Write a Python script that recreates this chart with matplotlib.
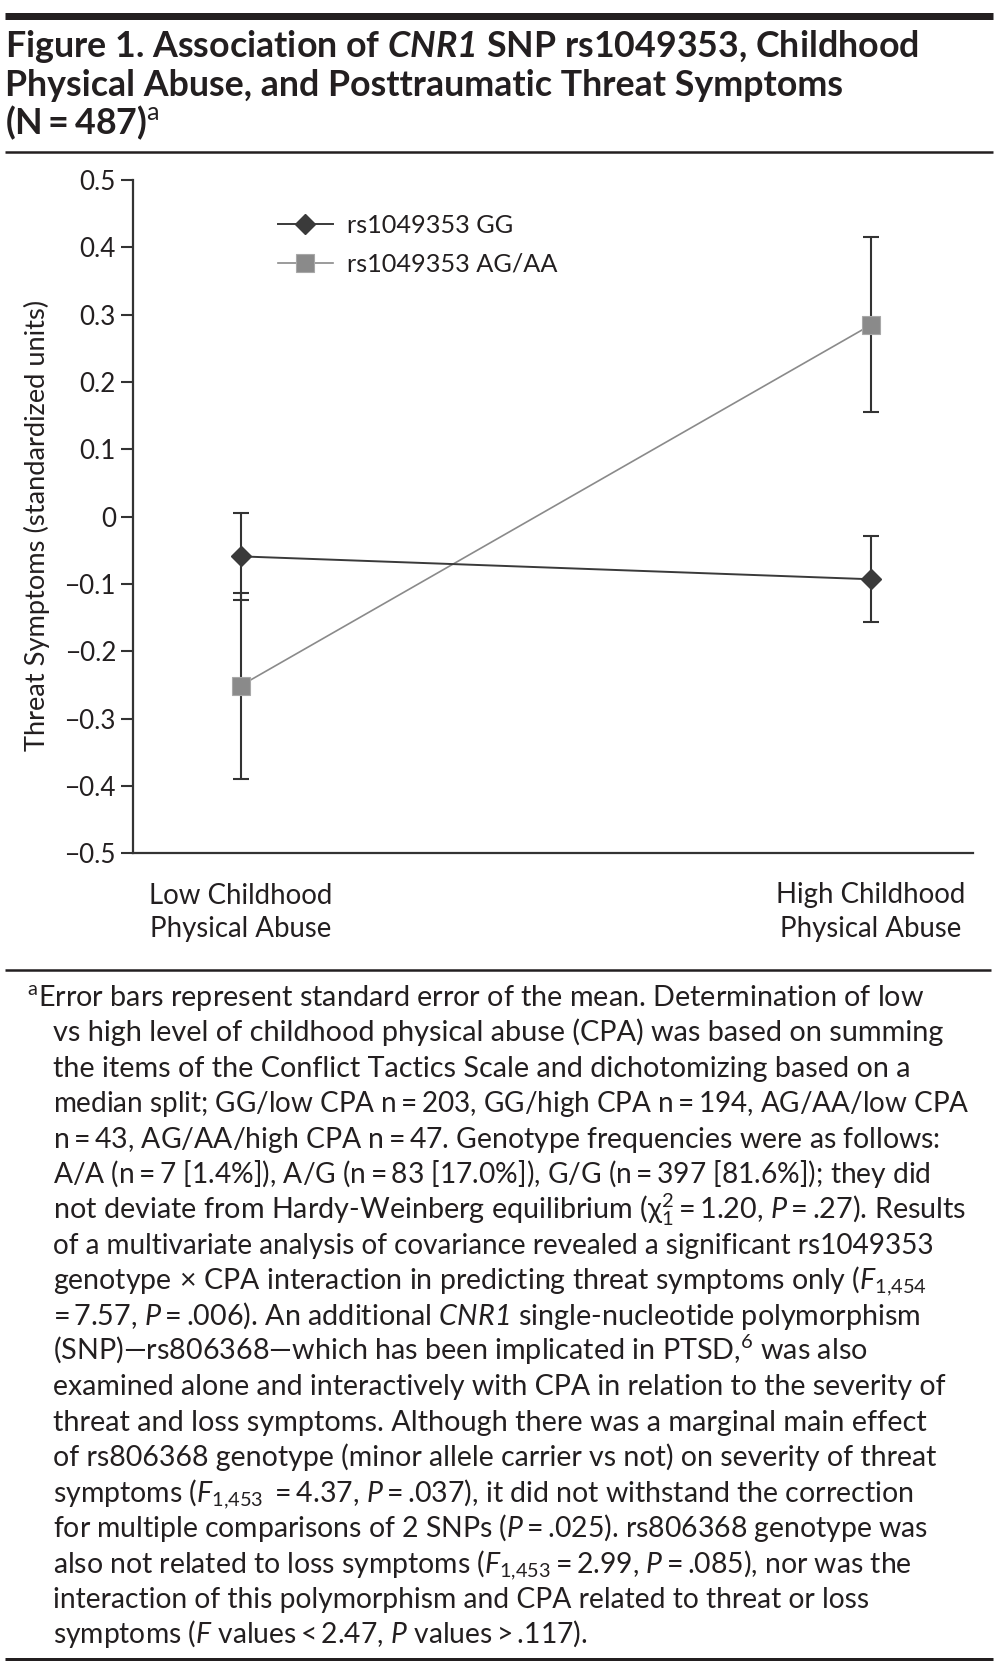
import matplotlib
matplotlib.use('Agg')
import matplotlib.pyplot as plt
from matplotlib import font_manager
from matplotlib.lines import Line2D
from matplotlib.transforms import blended_transform_factory
import numpy as np

# ---------------- data ----------------
categories = ['Low Childhood\nPhysical Abuse', 'High Childhood\nPhysical Abuse']
series_labels = ['rs1049353 GG', 'rs1049353 AG/AA']
gg_mean = [-0.059, -0.093]
gg_se = [0.065, 0.064]
ag_mean = [-0.251, 0.285]
ag_se = [0.138, 0.130]
y_ticks = [0.5, 0.4, 0.3, 0.2, 0.1, 0.0, -0.1, -0.2, -0.3, -0.4, -0.5]
y_tick_labels = ['0.5', '0.4', '0.3', '0.2', '0.1', '0',
                 '\u22120.1', '\u22120.2', '\u22120.3', '\u22120.4', '\u22120.5']
y_label = 'Threat Symptoms (standardized units)'

# ---------------- fonts ----------------
W, H, DPI = 995, 1670, 100
available = {f.name for f in font_manager.fontManager.ttflist}
FONT = 'Lato' if 'Lato' in available else 'DejaVu Sans'
plt.rcParams['font.family'] = [FONT, 'DejaVu Sans']
plt.rcParams['mathtext.fontset'] = 'custom'
plt.rcParams['mathtext.rm'] = FONT
plt.rcParams['mathtext.it'] = FONT + ':italic'
plt.rcParams['mathtext.bf'] = FONT + ':bold'
plt.rcParams['mathtext.sf'] = FONT + ':italic'
HAS_BFIT = 'mathtext.bfit' in plt.rcParams
if HAS_BFIT:
    plt.rcParams['mathtext.bfit'] = FONT + ':italic:bold'
plt.rcParams['mathtext.fallback'] = 'stixsans'

TXT = '#231f20'
DARK = '#3a3a3a'
GRAY = '#8a8a8a'
AXC = '#333333'

cnr = r'$\mathbfit{CNR1}$' if HAS_BFIT else r'$\mathit{CNR1}$'
title_lines = ['Figure 1. Association of ' + cnr + ' SNP rs1049353, Childhood',
               'Physical Abuse, and Posttraumatic Threat Symptoms',
               r'(N$\mathbf{=}$487)${}^{\mathrm{a}}$']
footnote_lines = [
    r'${}^{\mathrm{a}}$Error bars represent standard error of the mean. Determination of low',
    'vs high level of childhood physical abuse (CPA) was based on summing',
    'the items of the Conflict Tactics Scale and dichotomizing based on a',
    r'median split; GG/low CPA n$=$203, GG/high CPA n$=$194, AG/AA/low CPA',
    r'n$=$43, AG/AA/high CPA n$=$47. Genotype frequencies were as follows:',
    r'A/A (n$=$7 [1.4%]), A/G (n$=$83 [17.0%]), G/G (n$=$397 [81.6%]); they did',
    r'not deviate from Hardy-Weinberg equilibrium ($\mathrm{\chi}^{2}_{1}=$1.20, $P=$.27). Results',
    'of a multivariate analysis of covariance revealed a significant rs1049353',
    r'genotype$\,\times\,$CPA interaction in predicting threat symptoms only ($F_{1{,}454}$',
    r'=$\,$7.57, $P=$.006). An additional $\mathsf{CNR1}$ single-nucleotide polymorphism',
    r'(SNP)—rs806368—which has been implicated in PTSD,${}^{6}$ was also',
    'examined alone and interactively with CPA in relation to the severity of',
    'threat and loss symptoms. Although there was a marginal main effect',
    'of rs806368 genotype (minor allele carrier vs not) on severity of threat',
    r'symptoms ($F_{1{,}453}$ $=$4.37, $P=$.037), it did not withstand the correction',
    r'for multiple comparisons of 2 SNPs ($P=$.025). rs806368 genotype was',
    r'also not related to loss symptoms ($F_{1{,}453}=$2.99, $P=$.085), nor was the',
    'interaction of this polymorphism and CPA related to threat or loss',
    r'symptoms ($F$ values$<$2.47, $P$ values$>$.117).',
]
footnote_right = [925, 949, 912, 957, 937, 924, 966, 922, 929, 925, 870, 948,
                  933, 939, 912, 927, 911, 866, 584]

fig = plt.figure(figsize=(W / DPI, H / DPI), dpi=DPI)
renderer = fig.canvas.get_renderer()


def fx(x):
    return x / W


def fy(y):
    return 1 - y / H


def measure(s, size, **kw):
    t = fig.text(0, 0, s, fontsize=size, **kw)
    w = t.get_window_extent(renderer=renderer).width
    t.remove()
    return w


def fit_size(s, target, **kw):
    return 20.0 * target / measure(s, 20.0, **kw)


def hrule(y, x0, x1, lw_px):
    fig.add_artist(Line2D([fx(x0), fx(x1)], [fy(y), fy(y)], transform=fig.transFigure,
                          lw=lw_px * 72 / DPI, color=TXT, solid_capstyle='butt'))


# ---------------- title ----------------
ts = np.mean([fit_size(title_lines[0], 907, fontweight='bold'),
              fit_size(title_lines[1], 847, fontweight='bold')])
for s, yb in zip(title_lines, [57, 96, 134]):
    fig.text(fx(5), fy(yb), s, fontsize=ts, fontweight='bold', color=TXT, va='baseline', ha='left')

hrule(15.5, 5, 993, 7)
hrule(152, 5, 993, 2.5)
hrule(970, 5, 991, 2.5)
hrule(1659, 5, 993, 3)

# ---------------- axes ----------------
ax_l, ax_r, ax_t, ax_b = 133.5, 973.3, 180.0, 853.3
ax = fig.add_axes([fx(ax_l), fy(ax_b), (ax_r - ax_l) / W, (ax_b - ax_t) / H])
x = np.arange(len(categories))
ax.set_xlim(-0.170, 1.162)
ax.set_ylim(-0.5, 0.5)
for s in ['top', 'right']:
    ax.spines[s].set_visible(False)
for s in ['left', 'bottom']:
    ax.spines[s].set_linewidth(1.6)
    ax.spines[s].set_color(AXC)

ax.errorbar(x, gg_mean, yerr=gg_se, fmt='none', ecolor=AXC, elinewidth=1.5,
            capsize=5.5, capthick=1.5, zorder=2)
ax.errorbar(x, ag_mean, yerr=ag_se, fmt='none', ecolor=AXC, elinewidth=1.5,
            capsize=5.5, capthick=1.5, zorder=2)
ax.plot(x, gg_mean, color=DARK, lw=1.4, marker='D', ms=10, mfc=DARK, mec=DARK,
        label=series_labels[0], zorder=4)
ax.plot(x, ag_mean, color=GRAY, lw=1.2, marker='s', ms=13, mfc=GRAY, mec='#a8a8a8',
        mew=0.8, label=series_labels[1], zorder=3)

yts = 1.07 * np.mean([fit_size('0.5', 34), fit_size('\u22120.5', 48)])
ax.set_yticks(y_ticks)
ax.set_yticklabels(y_tick_labels)
ax.tick_params(axis='y', direction='out', length=8.6, width=1.5, pad=4.0,
               labelsize=yts, color=AXC, labelcolor=TXT)

# category labels: one text per line, centred on each category's x position
xts = np.mean([fit_size('Low Childhood', 185), fit_size('High Childhood', 192),
               fit_size('Physical Abuse', 179)])
ax.set_xticks(x)
ax.set_xticklabels([''] * len(categories))
ax.tick_params(axis='x', length=0)
btr = blended_transform_factory(ax.transData, fig.transFigure)
for xi, cat in zip(x, categories):
    for line, yb in zip(cat.split('\n'), [903.5, 937.0]):
        ax.text(xi, fy(yb), line, transform=btr, ha='center', va='baseline',
                fontsize=xts, color=TXT, clip_on=False)

yls = fit_size(y_label, 453)
fig.text(fx(37), fy(525), y_label, rotation=90, ha='center', va='center',
         fontsize=yls, color=TXT)

ls = fit_size(series_labels[1], 210)
fs_px = ls * DPI / 72
leg = ax.legend(loc='center left', bbox_to_anchor=(fx(278), fy(245)),
                bbox_transform=fig.transFigure, frameon=False, fontsize=ls,
                handlelength=55 / fs_px, handletextpad=13.7 / fs_px,
                labelspacing=0.62, borderpad=0, borderaxespad=0, numpoints=1)
for t in leg.get_texts():
    t.set_color(TXT)

# ---------------- footnote ----------------
sizes = []
for i, (s, r) in enumerate(zip(footnote_lines, footnote_right)):
    x0 = 27 if i == 0 else 53
    sizes.append(fit_size(s, r - x0))
fns = float(np.median(sizes))
for i, s in enumerate(footnote_lines):
    x0 = 27 if i == 0 else 53
    size_i = fns ** 0.35 * sizes[i] ** 0.65
    fig.text(fx(x0), fy(1006 + i * 35.4), s, fontsize=size_i, color=TXT,
             ha='left', va='baseline')

fig.savefig('out.png', dpi=DPI)
